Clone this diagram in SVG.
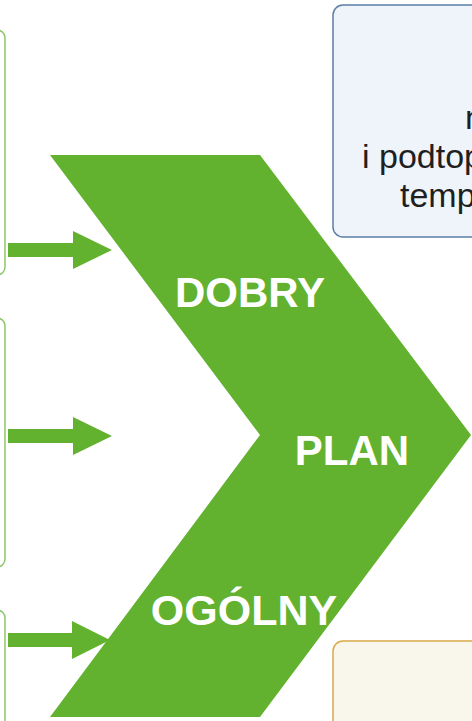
<svg xmlns="http://www.w3.org/2000/svg" width="472" height="721" viewBox="0 0 472 721">
<style>
.gbox{fill:#ffffff;stroke:#8cc66a;stroke-width:1.5}
.arr{fill:#62b22f}
.big{font-family:"Liberation Sans",Arial,sans-serif;font-weight:bold;font-size:42px;fill:#ffffff;text-anchor:middle}
.note{font-family:"Liberation Sans",Arial,sans-serif;font-size:34px;fill:#1f1f1f}
</style>
<rect width="472" height="721" fill="#ffffff"/>
<g id="box-left-1"><rect class="gbox" x="-100" y="30" width="105" height="245" rx="8"/></g>
<g id="box-left-2"><rect class="gbox" x="-100" y="318" width="105" height="249" rx="8"/></g>
<g id="box-left-3"><rect class="gbox" x="-100" y="610" width="105" height="200" rx="8"/></g>
<g id="box-blue">
<rect x="333" y="5" width="200" height="232" rx="10" fill="#eff4fb" stroke="#5b7fa6" stroke-width="1.5"/>
<text class="note" x="465" y="129">n</text>
<text class="note" x="362" y="168">i podtop</text>
<text class="note" x="400" y="207">temp</text>
</g>
<g id="box-beige"><rect x="333" y="641" width="200" height="120" rx="10" fill="#f9f6eb" stroke="#d9a94a" stroke-width="1.5"/></g>
<g id="chevron">
<polygon points="50,155 260,155 471,435 260,717 50,717 260,435" fill="#62b22f"/>
<text class="big" x="250" y="307">DOBRY</text>
<text class="big" x="352" y="465">PLAN</text>
<text class="big" x="244" y="625" style="font-size:43px">OGÓLNY</text>
</g>
<g id="connectors">
<polygon class="arr" points="8,243 73,243 73,231 112,250 73,269 73,257 8,257"/>
<polygon class="arr" points="8,429 73,429 73,417 112,436 73,455 73,443 8,443"/>
<polygon class="arr" points="8,633 72,633 72,621 110,640 72,659 72,647 8,647"/>
</g>
</svg>
